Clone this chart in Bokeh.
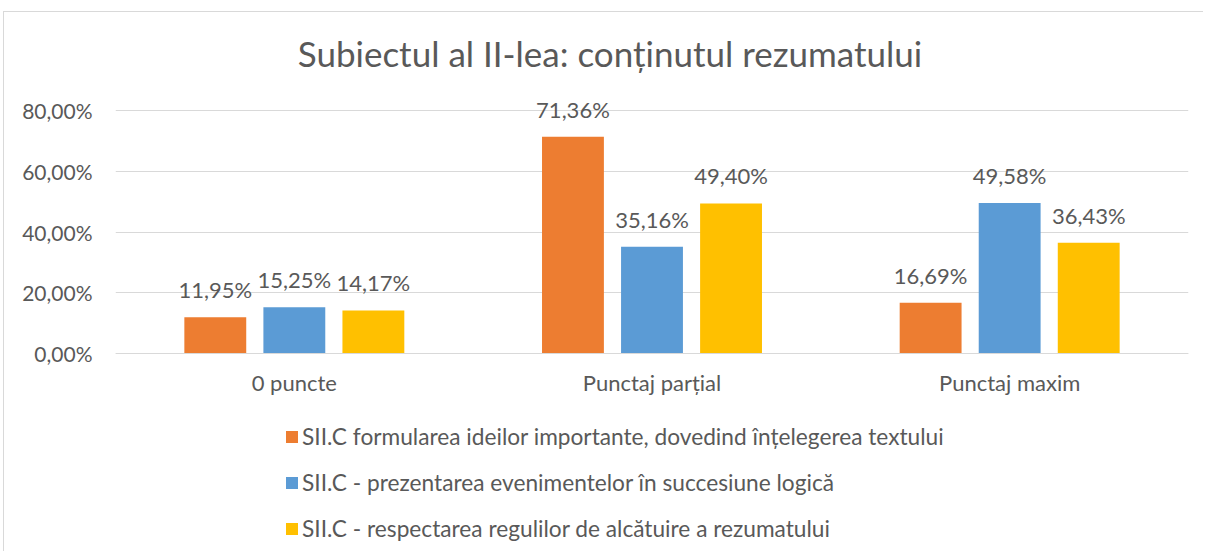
from bokeh.plotting import figure
from bokeh.models import (FactorRange, Range1d, ColumnDataSource, Legend, LegendItem,
                          FixedTicker, LabelSet, Label)
from bokeh.core.properties import value
from bokeh.transform import dodge
from bokeh.embed import file_html
from bokeh.resources import INLINE

title_text = "Subiectul al II-lea: conținutul rezumatului"
categories = ["0 puncte", "Punctaj parțial", "Punctaj maxim"]
series_names = [
    "SII.C formularea ideilor importante, dovedind înțelegerea textului",
    "SII.C - prezentarea evenimentelor în succesiune logică",
    "SII.C - respectarea regulilor de alcătuire a rezumatului",
]
s1 = [11.95, 71.36, 16.69]
s2 = [15.25, 35.16, 49.58]
s3 = [14.17, 49.40, 36.43]
colors = ["#ED7D31", "#5B9BD5", "#FFC000"]
y_ticks = [0, 20, 40, 60, 80]
y_tick_labels = ["0,00%", "20,00%", "40,00%", "60,00%", "80,00%"]

FONT = "Lato"
TXT = "#595959"
GRID = "#d9d9d9"

def fmt(v):
    return f"{v:.2f}".replace(".", ",") + "%"

# layout geometry (pixels): frame fills the canvas vertically so that the
# title, category labels and legend can all sit inside it
W, H = 1200, 540
LEFT, RIGHT = 111, 16
ABOVE_PX = 98      # canvas top -> 80% line
BELOW_PX = H - ABOVE_PX - 243   # 0% line -> canvas bottom
PX_PER_UNIT = 243 / 80.0
y_end = 80 + ABOVE_PX / PX_PER_UNIT
y_start = -BELOW_PX / PX_PER_UNIT

p = figure(width=W, height=H, output_backend="svg", toolbar_location=None,
           x_range=FactorRange(*categories, range_padding=0), y_range=Range1d(y_start, y_end),
           min_border_left=LEFT, min_border_right=RIGHT, min_border_top=0, min_border_bottom=0)
p.styles = {"margin-left": "3px", "margin-top": "11px",
            "border-left": "1px solid #d9d9d9", "border-top": "1px solid #d9d9d9"}
p.outline_line_color = None
p.title.visible = False

title = Label(x=len(categories) / 2, y=80, x_offset=-42, y_offset=58, text=title_text,
              text_align="center", text_baseline="alphabetic",
              text_font=FONT, text_font_size="35px", text_color=TXT)
p.add_layout(title)

offsets = [-0.221, 0.0, 0.221]
series = [s1, s2, s3]
items = []
for name, vals, col, off in zip(series_names, series, colors, offsets):
    src = ColumnDataSource(dict(cat=categories, val=vals, lab=[fmt(v) for v in vals]))
    r = p.vbar(x=dodge("cat", off, range=p.x_range), top="val", width=0.173, source=src,
               fill_color=col, line_color=None)
    items.append(LegendItem(label=name, renderers=[r]))
    ls = LabelSet(x=dodge("cat", off, range=p.x_range), y="val", text="lab", source=src,
                  text_align="center", text_baseline="alphabetic", y_offset=19,
                  text_font=value(FONT), text_font_size=value("22px"), text_color=TXT)
    p.add_layout(ls)

p.yaxis.ticker = FixedTicker(ticks=y_ticks)
p.yaxis.major_label_overrides = {t: l for t, l in zip(y_ticks, y_tick_labels)}
p.yaxis.axis_line_color = None
p.yaxis.major_tick_line_color = None
p.yaxis.minor_tick_line_color = None
p.yaxis.major_tick_out = 0
p.yaxis.major_label_standoff = 23
p.yaxis.major_label_text_font = FONT
p.yaxis.major_label_text_font_size = "21px"
p.yaxis.major_label_text_color = TXT

p.xaxis.fixed_location = 0
p.xaxis.axis_line_color = GRID
p.xaxis.major_tick_line_color = None
p.xaxis.minor_tick_line_color = None
p.xaxis.major_tick_out = 0
p.xaxis.major_label_standoff = 15
p.xaxis.major_label_text_font = FONT
p.xaxis.major_label_text_font_size = "22px"
p.xaxis.major_label_text_color = TXT

p.xgrid.grid_line_color = None
p.ygrid.grid_line_color = GRID
p.ygrid.grid_line_width = 1
p.ygrid.ticker = FixedTicker(ticks=y_ticks)

legend = Legend(items=items, location=(169, 10), orientation="vertical",
                glyph_width=15, glyph_height=15, label_standoff=3, spacing=19,
                label_height=25, padding=0, margin=0, border_line_color=None,
                background_fill_alpha=0,
                label_text_font=FONT, label_text_font_size="22.7px", label_text_color=TXT)
p.add_layout(legend, "center")

open("out.html", "w").write(file_html(p, INLINE))
